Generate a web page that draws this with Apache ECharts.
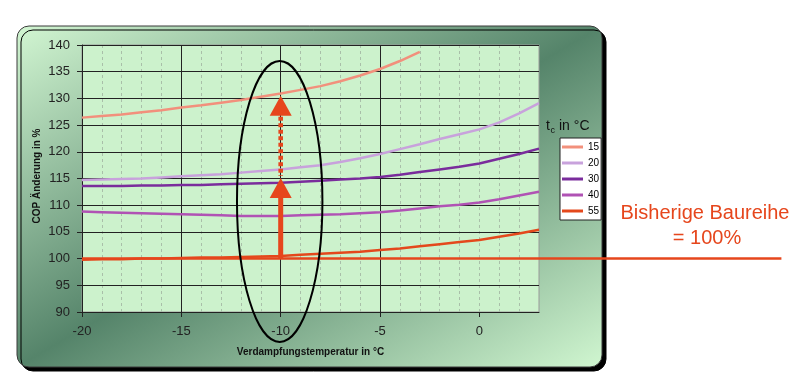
<!DOCTYPE html>
<html><head><meta charset="utf-8">
<script src="https://cdn.jsdelivr.net/npm/echarts@6/dist/echarts.min.js"></script>
<style>html,body{margin:0;padding:0;background:#fff}#c{width:800px;height:374px}</style>
</head><body><div id="c"></div>
<script>
// ---- data ----
const xValues = [-20,-19,-18,-17,-16,-15,-14,-13,-12,-11,-10,-9,-8,-7,-6,-5,-4,-3,-2,-1,0,1,2,3];
const tcNames = ['15','20','30','40','55'];
const cop15 = [126.4,126.7,127.0,127.4,127.8,128.3,128.7,129.2,129.7,130.3,130.9,131.6,132.3,133.2,134.3,135.5,137.0,138.7];
const cop20 = [114.7,114.8,114.9,115.0,115.2,115.4,115.6,115.8,116.1,116.4,116.7,117.1,117.5,118.1,118.8,119.6,120.5,121.4,122.4,123.3,124.2,125.5,127.2,129.1];
const cop30 = [113.6,113.6,113.6,113.7,113.7,113.8,113.8,113.9,114.0,114.1,114.2,114.4,114.6,114.8,115.0,115.3,115.7,116.2,116.7,117.2,117.8,118.7,119.6,120.6];
const cop40 = [108.8,108.7,108.6,108.5,108.4,108.3,108.2,108.1,108.0,108.0,108.0,108.1,108.2,108.3,108.5,108.7,109.0,109.4,109.8,110.1,110.5,111.1,111.8,112.5];
const cop55 = [99.8,99.9,99.9,100.0,100.0,100.1,100.2,100.2,100.3,100.4,100.5,100.7,100.9,101.1,101.3,101.6,101.9,102.3,102.7,103.1,103.5,104.1,104.7,105.4];
const xTicks = [-20,-15,-10,-5,0];
const yRange = [90,140];
const xRange = [-20,3];
// annotations (data units)
const baseline = 100;
const arrowX = -10;
const arrowMid = 115.1;
const arrowTop = 130.5;
const ellipseX = [-12.2,-7.9];
const ellipseY = [84.4,137.0];
const refLineEndX = 15.2;

const colors = ['#f2907c','#c8a2dc','#7a2c9c','#b052b4','#e4481c'];
const red = '#e6461c';
const allSeries = [cop15,cop20,cop30,cop40,cop55];

const chart = echarts.init(document.getElementById('c'), null, {renderer:'canvas'});

// panel gradient (perpendicular to BL->TR diagonal)
const P = {x:17,y:26,w:585,h:341};
const cx0 = P.x+P.w/2, cy0 = P.y+P.h/2;
const len = Math.hypot(P.w,P.h);
const ux = P.h/len, uy = P.w/len;
const half = (P.w/2)*ux + (P.h/2)*uy;
const grad = new echarts.graphic.LinearGradient(cx0-half*ux, cy0-half*uy, cx0+half*ux, cy0+half*uy,
  [{offset:0,color:'#d2f6d2'},{offset:0.5,color:'#55846a'},{offset:1,color:'#d0f6d0'}], true);

const font = 'Liberation Sans, Arial, sans-serif';
const option = {
  animation:false,
  textStyle:{fontFamily:font},
  grid:{left:82,top:45,width:457,height:267,show:true,backgroundColor:'#ccf2cc',borderColor:'#9a9a9a',borderWidth:1,containLabel:false},
  xAxis:[
    {type:'value',min:xRange[0],max:xRange[1],interval:5,z:3,
     axisLine:{show:true,onZero:false,lineStyle:{color:'#222',width:1}},
     axisTick:{show:true,length:5,customValues:xTicks,lineStyle:{color:'#222'}},
     axisLabel:{customValues:xTicks,fontSize:13,color:'#222',margin:13,fontFamily:font},
     splitLine:{show:true,showMinLine:false,showMaxLine:false,lineStyle:{color:'#222',width:1}},
     name:'Verdampfungstemperatur in °C',nameLocation:'middle',nameGap:35,
     nameTextStyle:{fontSize:10,fontWeight:'bold',color:'#111',fontFamily:font}},
    {type:'value',min:xRange[0],max:xRange[1],interval:1,z:1,position:'bottom',
     axisLine:{show:false},axisTick:{show:false},axisLabel:{show:false},
     splitLine:{show:true,showMinLine:false,showMaxLine:false,lineStyle:{color:'#a9bfa9',width:1,type:[3,3]}}}
  ],
  yAxis:{type:'value',min:yRange[0],max:yRange[1],interval:5,z:3,
     axisLine:{show:true,onZero:false,lineStyle:{color:'#222',width:1}},
     axisTick:{show:true,length:5,lineStyle:{color:'#222'}},
     axisLabel:{fontSize:13,color:'#222',margin:12,fontFamily:font},
     splitLine:{show:true,lineStyle:{color:'#222',width:1}}},
  legend:{orient:'vertical',left:560,top:138,data:tcNames,backgroundColor:'#fff',borderColor:'#222',borderWidth:1,
     padding:[3,2,3,2],icon:'rect',itemWidth:21,itemHeight:3,itemGap:4,
     textStyle:{fontSize:10,color:'#000',fontFamily:font,lineHeight:12}},
  series: tcNames.map((n,i)=>({
     name:n,type:'line',symbol:'none',showSymbol:false,smooth:false,z:5,
     data: allSeries[i].map((v,j)=>[xValues[j],v]),
     lineStyle:{color:colors[i],width:2.5},itemStyle:{color:colors[i]}
  })),
  graphic:[
    {type:'rect',z:-10,shape:{x:P.x,y:P.y,width:P.w,height:P.h,r:12},
     style:{fill:grad,stroke:'#3a3a3a',lineWidth:1,shadowColor:'#000',shadowOffsetX:4,shadowOffsetY:4,shadowBlur:0}}
  ]
};
chart.setOption(option);

const p = v => chart.convertToPixel({xAxisIndex:0,yAxisIndex:0}, v);
const b = p([arrowX,baseline]), m = p([arrowX,arrowMid]), t = p([arrowX,arrowTop]);
const e1 = p([ellipseX[0],ellipseY[0]]), e2 = p([ellipseX[1],ellipseY[1]]);
const r1 = p([xRange[0],baseline]), r2 = p([refLineEndX,baseline]);
const hh = 20, hw = 11;
const dots = [];
for (let y = t[1]+hh+1; y < m[1]-2; y += 6.5) {
  dots.push({type:'rect',z:51,shape:{x:t[0]-2.3,y:y,width:4.6,height:Math.min(4,m[1]-2-y)},style:{fill:red}});
}
chart.setOption({graphic:[
  {type:'rect',z:-10,shape:{x:P.x,y:P.y,width:P.w,height:P.h,r:12},
   style:{fill:grad,stroke:'#3a3a3a',lineWidth:1,shadowColor:'#000',shadowOffsetX:4,shadowOffsetY:4,shadowBlur:0}},
  {type:'line',z:50,shape:{x1:r1[0],y1:r1[1],x2:r2[0],y2:r2[1]},style:{stroke:red,lineWidth:2.5}},
  {type:'line',z:51,shape:{x1:b[0],y1:b[1],x2:m[0],y2:m[1]+hh-1},style:{stroke:red,lineWidth:5}},
  {type:'polygon',z:51,shape:{points:[[m[0],m[1]],[m[0]-hw,m[1]+hh],[m[0]+hw,m[1]+hh]]},style:{fill:red}},
  ...dots,
  {type:'polygon',z:51,shape:{points:[[t[0],t[1]],[t[0]-hw,t[1]+hh],[t[0]+hw,t[1]+hh]]},style:{fill:red}},
  {type:'ellipse',z:52,shape:{cx:(e1[0]+e2[0])/2,cy:(e1[1]+e2[1])/2,rx:Math.abs(e2[0]-e1[0])/2,ry:Math.abs(e2[1]-e1[1])/2},
   style:{fill:'none',stroke:'#000',lineWidth:2}},
  {type:'text',z:52,x:37,y:176,rotation:Math.PI/2,style:{text:'COP Änderung in %',font:'bold 10px '+font,fill:'#111',align:'center',verticalAlign:'middle'}},
  {type:'text',z:52,x:546,y:126,style:{text:'t',font:'14px '+font,fill:'#111',align:'left',verticalAlign:'middle'}},
  {type:'text',z:52,x:550.5,y:131,style:{text:'c',font:'9px '+font,fill:'#111',align:'left',verticalAlign:'middle'}},
  {type:'text',z:52,x:559,y:126,style:{text:'in °C',font:'14px '+font,fill:'#111',align:'left',verticalAlign:'middle'}},
  {type:'text',z:52,x:705,y:213,style:{text:'Bisherige Baureihe',font:'20px '+font,fill:red,align:'center',verticalAlign:'middle'}},
  {type:'text',z:52,x:707,y:238,style:{text:'= 100%',font:'20px '+font,fill:red,align:'center',verticalAlign:'middle'}}
]}, {replaceMerge:['graphic']});
</script></body></html>
